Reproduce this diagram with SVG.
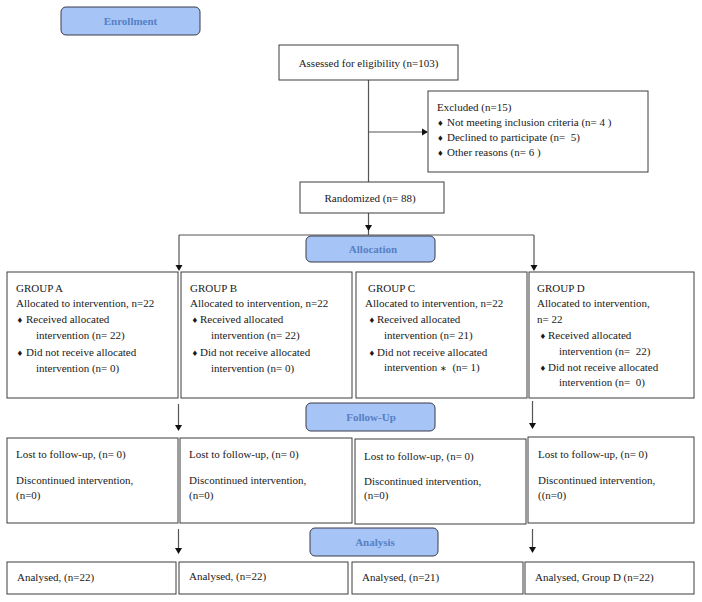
<svg xmlns="http://www.w3.org/2000/svg" width="702" height="602" viewBox="0 0 702 602">
<style>
text{font-family:"Liberation Serif","Times New Roman",serif;font-size:11px;fill:#1a1a1a;white-space:pre}
.box{fill:#fff;stroke:#3c3c3c;stroke-width:1}
.lab{fill:#a6c4f6;stroke:#3a3a4a;stroke-width:1}
.lt{font-weight:bold;fill:#5580c4;text-anchor:middle}
.c{text-anchor:middle}
.b{font-family:"DejaVu Sans",sans-serif;font-size:7.5px}
.ln{fill:none;stroke:#555;stroke-width:1.2}
.ah{fill:#111}
</style>
<rect width="702" height="602" fill="#fff"/>
<g id="connectors">
<path class="ln" d="M368.5,80 V182"/>
<path class="ln" d="M368.5,132 H423"/>
<polygon class="ah" points="428,132 422,128.5 422,135.5"/>
<path class="ln" d="M368.5,213 V235"/>
<polygon class="ah" points="368.5,231 365,225 372,225"/>
<path class="ln" d="M179,235 H534"/>
<path class="ln" d="M179,235 V266"/>
<polygon class="ah" points="179,271 175.5,265 182.5,265"/>
<path class="ln" d="M534,235 V266"/>
<polygon class="ah" points="534,271 530.5,265 537.5,265"/>
<path class="ln" d="M178.5,404 V426"/>
<polygon class="ah" points="178.5,431 175,425 182,425"/>
<path class="ln" d="M532.5,401 V424"/>
<polygon class="ah" points="532.5,429 529,423 536,423"/>
<path class="ln" d="M178.5,529 V549"/>
<polygon class="ah" points="178.5,554 175,548 182,548"/>
<path class="ln" d="M532.5,529 V548"/>
<polygon class="ah" points="532.5,553 529,547 536,547"/>
</g>
<g id="enrollment">
<rect class="lab" x="61" y="7" width="139" height="28" rx="5"/>
<text class="lt" x="130.5" y="25">Enrollment</text>
</g>
<g id="assessed">
<rect class="box" x="279" y="45" width="179" height="35"/>
<text class="c" x="368.5" y="67">Assessed for eligibility (n=103)</text>
</g>
<g id="excluded">
<rect class="box" x="428" y="91" width="220" height="81"/>
<text x="437" y="110.5">Excluded (n=15)</text>
<text><tspan class="b" x="437" y="125.5">♦</tspan><tspan x="447" y="125.5">Not meeting inclusion criteria (n= 4 )</tspan></text>
<text><tspan class="b" x="437" y="140.5">♦</tspan><tspan x="447" y="140.5">Declined to participate (n=  5)</tspan></text>
<text><tspan class="b" x="437" y="155.5">♦</tspan><tspan x="447" y="155.5">Other reasons (n= 6 )</tspan></text>
</g>
<g id="randomized">
<rect class="box" x="300" y="182" width="144" height="31"/>
<text class="c" x="370" y="202">Randomized (n= 88)</text>
</g>
<g id="allocation">
<rect class="lab" x="306" y="236" width="129" height="26" rx="5"/>
<text class="lt" x="373" y="253">Allocation</text>
</g>
<g id="groupA">
<rect class="box" x="7" y="272" width="171" height="126"/>
<text x="16" y="292">GROUP A</text>
<text x="16" y="307">Allocated to intervention, n=22</text>
<text><tspan class="b" x="16.5" y="322.5">♦</tspan><tspan x="26" y="323">Received allocated</tspan></text>
<text x="36" y="339">intervention (n= 22)</text>
<text><tspan class="b" x="16.5" y="355.5">♦</tspan><tspan x="26" y="356">Did not receive allocated</tspan></text>
<text x="36" y="372">intervention (n= 0)</text>
</g>
<g id="groupB">
<rect class="box" x="181" y="272" width="171" height="126"/>
<text x="190" y="292">GROUP B</text>
<text x="190" y="307">Allocated to intervention, n=22</text>
<text><tspan class="b" x="191.5" y="322.5">♦</tspan><tspan x="200" y="323">Received allocated</tspan></text>
<text x="211" y="339">intervention (n= 22)</text>
<text><tspan class="b" x="191.5" y="355.5">♦</tspan><tspan x="200" y="356">Did not receive allocated</tspan></text>
<text x="211" y="372">intervention (n= 0)</text>
</g>
<g id="groupC">
<rect class="box" x="356" y="272" width="171" height="126"/>
<text x="368" y="292">GROUP C</text>
<text x="365" y="307">Allocated to intervention, n=22</text>
<text><tspan class="b" x="368.5" y="322.5">♦</tspan><tspan x="377" y="323">Received allocated</tspan></text>
<text x="384" y="339">intervention (n= 21)</text>
<text><tspan class="b" x="368.5" y="355.5">♦</tspan><tspan x="377" y="356">Did not receive allocated</tspan></text>
<text x="384" y="371">intervention <tspan font-size="8">∗</tspan>  (n= 1)</text>
</g>
<g id="groupD">
<rect class="box" x="529" y="272" width="165" height="126"/>
<text x="537" y="292">GROUP D</text>
<text x="537" y="307">Allocated to intervention,</text>
<text x="537" y="323">n= 22</text>
<text><tspan class="b" x="539.5" y="338.5">♦</tspan><tspan x="548" y="339">Received allocated</tspan></text>
<text x="559" y="355">intervention (n=  22)</text>
<text><tspan class="b" x="539.5" y="370.5">♦</tspan><tspan x="548" y="371">Did not receive allocated</tspan></text>
<text x="559" y="386">intervention (n=  0)</text>
</g>
<g id="followup">
<rect class="lab" x="306" y="403" width="129" height="28" rx="5"/>
<text class="lt" x="371" y="421">Follow-Up</text>
</g>
<g id="followA">
<rect class="box" x="7" y="438" width="171" height="85"/>
<text x="16" y="458">Lost to follow-up, (n= 0)</text>
<text x="16" y="484">Discontinued intervention,</text>
<text x="16" y="499">(n=0)</text>
</g>
<g id="followB">
<rect class="box" x="180" y="438" width="172" height="85"/>
<text x="189" y="458">Lost to follow-up, (n= 0)</text>
<text x="189" y="484">Discontinued intervention,</text>
<text x="189" y="499">(n=0)</text>
</g>
<g id="followC">
<rect class="box" x="355" y="439" width="171" height="85"/>
<text x="364" y="460">Lost to follow-up, (n= 0)</text>
<text x="364" y="485">Discontinued intervention,</text>
<text x="364" y="499">(n=0)</text>
</g>
<g id="followD">
<rect class="box" x="528" y="437" width="166" height="86"/>
<text x="538" y="458">Lost to follow-up, (n= 0)</text>
<text x="538" y="484">Discontinued intervention,</text>
<text x="538" y="499">((n=0)</text>
</g>
<g id="analysis">
<rect class="lab" x="310" y="528" width="128" height="28" rx="5"/>
<text class="lt" x="375" y="546">Analysis</text>
</g>
<g id="analysedA">
<rect class="box" x="7" y="562" width="169" height="32"/>
<text x="17" y="581">Analysed, (n=22)</text>
</g>
<g id="analysedB">
<rect class="box" x="179" y="562" width="169" height="32"/>
<text x="189" y="580">Analysed, (n=22)</text>
</g>
<g id="analysedC">
<rect class="box" x="352" y="562" width="171" height="32"/>
<text x="362" y="581">Analysed, (n=21)</text>
</g>
<g id="analysedD">
<rect class="box" x="525" y="562" width="169" height="32"/>
<text x="535" y="581">Analysed, Group D (n=22)</text>
</g>
</svg>
